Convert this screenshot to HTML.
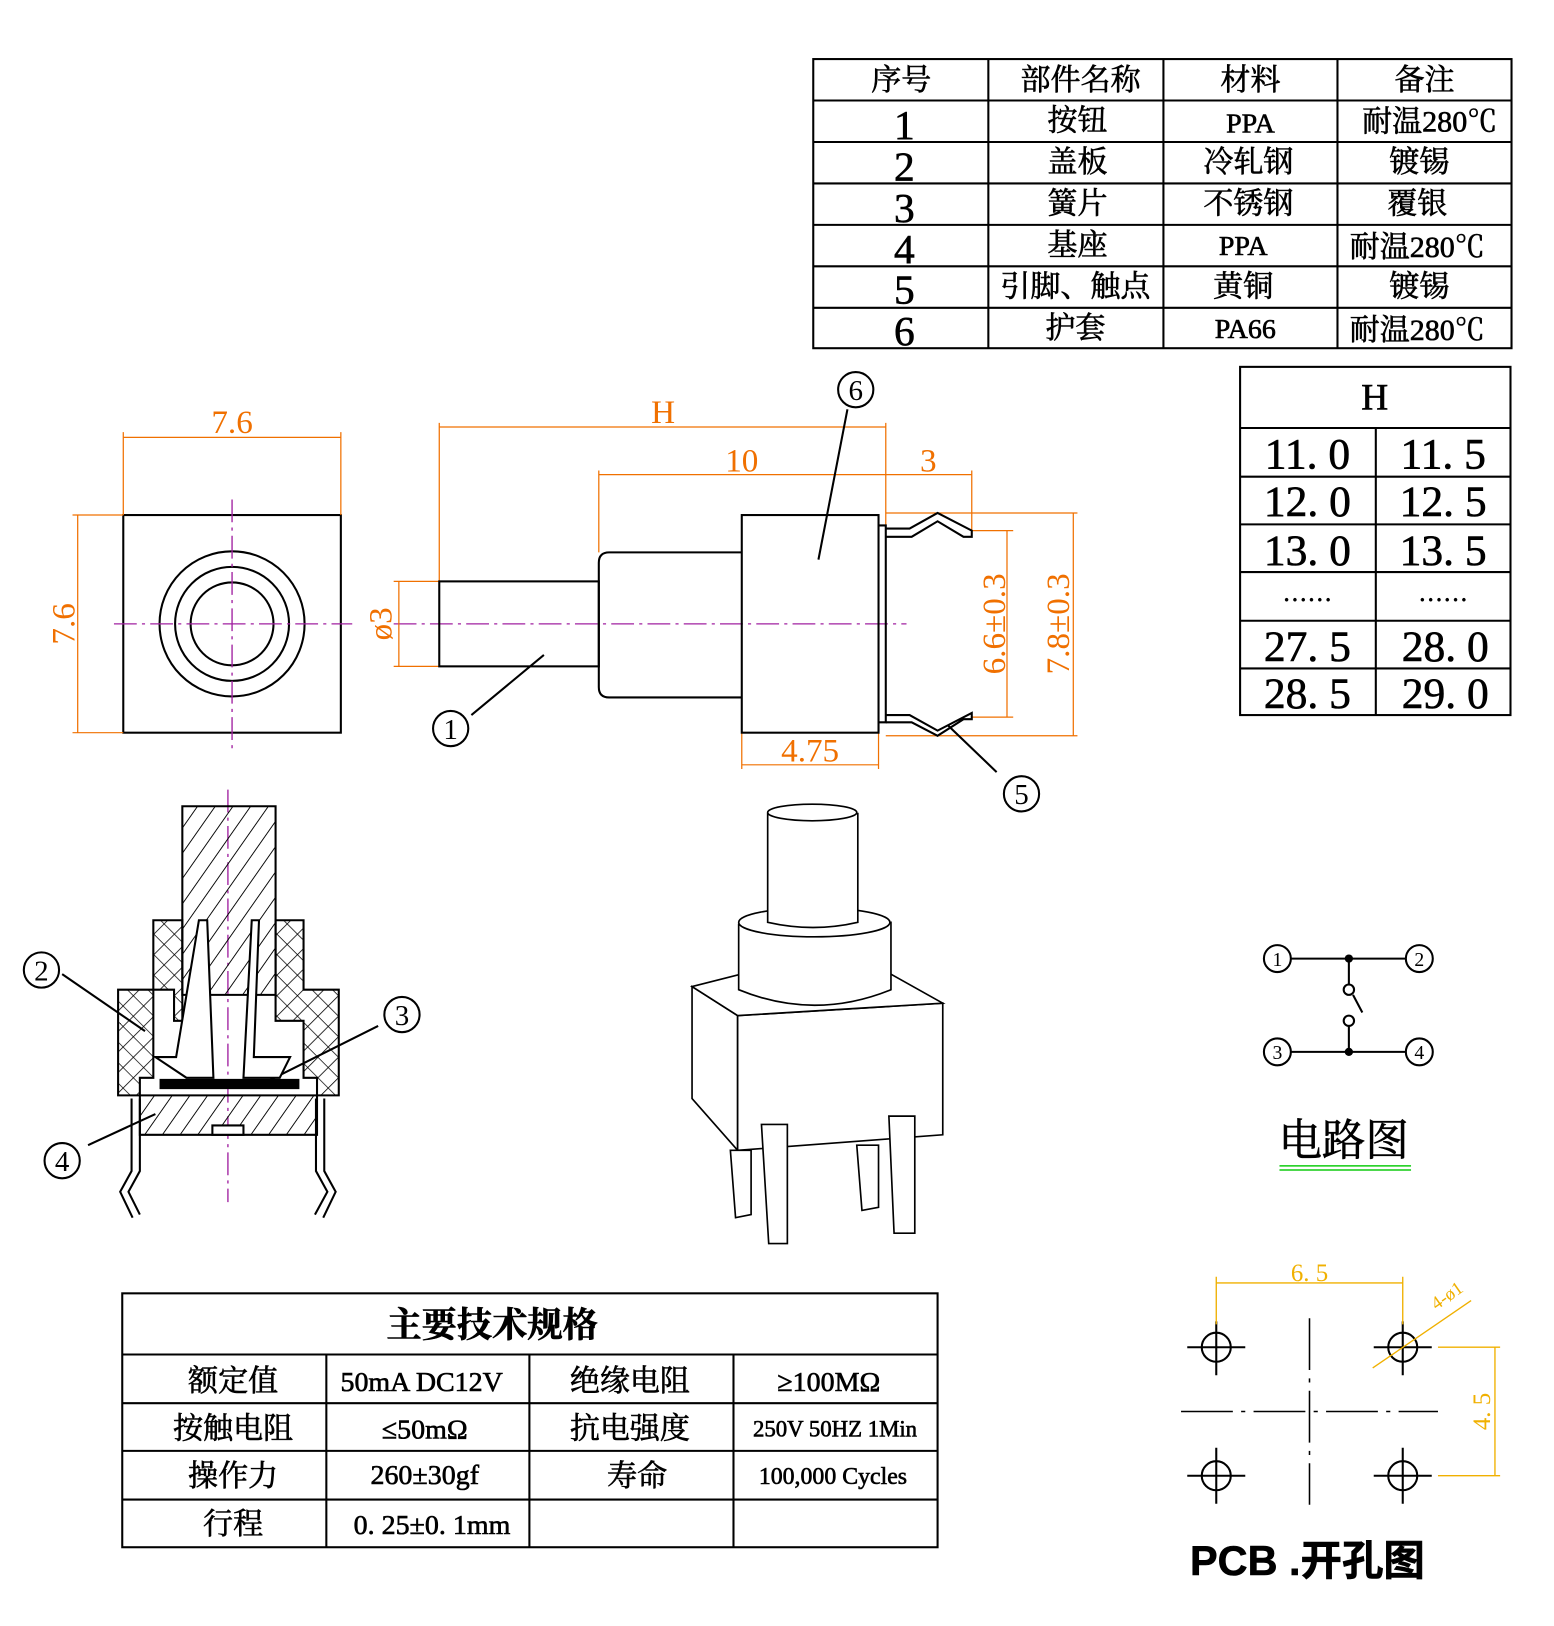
<!DOCTYPE html>
<html><head><meta charset="utf-8"><style>
html,body{margin:0;padding:0;background:#fff}
svg{display:block}
text{font-family:"Liberation Serif","Noto Serif CJK SC","Noto Sans CJK SC",serif}
.cn{font-family:"Liberation Serif","Noto Serif CJK SC",serif;stroke:#000;stroke-width:0.6}
.o{fill:#f07000;font-family:"Liberation Sans Narrow","Liberation Sans",sans-serif}
</style></head><body>
<svg width="1554" height="1626" viewBox="0 0 1500 1569" preserveAspectRatio="none" xmlns="http://www.w3.org/2000/svg">
<g fill="none" stroke="#000" stroke-width="2">
<rect x="785" y="57" width="674" height="279"/>
<path d="M954 57V336M1123 57V336M1291 57V336M785 97H1459M785 137H1459M785 177H1459M785 217H1459M785 257H1459M785 297H1459"/>
<rect x="1197" y="354" width="261" height="336"/>
<path d="M1328 413V690M1197 413H1458M1197 460H1458M1197 506H1458M1197 552H1458M1197 599H1458M1197 645H1458"/>
<rect x="118" y="1248" width="787" height="245"/>
<path d="M118 1307H905M118 1354H905M118 1400H905M118 1447H905M315 1307V1493M511 1307V1493M708 1307V1493"/>
</g>
<g class="cn" font-size="29" text-anchor="middle" fill="#000">
<text x="870" y="87">序号</text><text x="1043" y="87">部件名称</text><text x="1207" y="87">材料</text><text x="1375" y="87">备注</text>
<g font-size="40"><text x="873" y="134">1</text><text x="873" y="174">2</text><text x="873" y="214">3</text><text x="873" y="254">4</text><text x="873" y="293">5</text><text x="873" y="333">6</text></g>
<text x="1040" y="126">按钮</text><text x="1040" y="166">盖板</text><text x="1040" y="206">簧片</text><text x="1040" y="246">基座</text><text x="1038" y="286">引脚、触点</text><text x="1038" y="326">护套</text>
<text x="1207" y="128" font-size="27">PPA</text><text x="1205" y="166">冷轧钢</text><text x="1205" y="206">不锈钢</text><text x="1200" y="246" font-size="27">PPA</text><text x="1200" y="286">黄铜</text><text x="1202" y="326" font-size="27">PA66</text>
<text x="1380" y="127">耐温280℃</text><text x="1370" y="166">镀锡</text><text x="1368" y="206">覆银</text><text x="1368" y="248">耐温280℃</text><text x="1370" y="286">镀锡</text><text x="1368" y="328">耐温280℃</text>
<text x="1327" y="395" font-size="36">H</text>
<g font-size="42"><text x="1262" y="452">11. 0</text><text x="1393" y="452">11. 5</text><text x="1262" y="498">12. 0</text><text x="1393" y="498">12. 5</text><text x="1262" y="545">13. 0</text><text x="1393" y="545">13. 5</text><text x="1262" y="580" font-size="24">……</text><text x="1393" y="580" font-size="24">……</text><text x="1262" y="638">27. 5</text><text x="1395" y="638">28. 0</text><text x="1262" y="683">28. 5</text><text x="1395" y="683">29. 0</text></g>
<text x="475" y="1290" font-size="34" font-weight="bold">主要技术规格</text>
<text x="225" y="1342">额定值</text><text x="407" y="1342" font-size="27">50mA DC12V</text><text x="608" y="1342">绝缘电阻</text><text x="800" y="1342" font-size="27">≥100MΩ</text>
<text x="225" y="1388">按触电阻</text><text x="410" y="1388" font-size="27">≤50mΩ</text><text x="608" y="1388">抗电强度</text><text x="806" y="1386" font-size="22">250V 50HZ 1Min</text>
<text x="225" y="1434">操作力</text><text x="410" y="1432" font-size="27">260±30gf</text><text x="615" y="1434">寿命</text><text x="804" y="1432" font-size="23">100,000 Cycles</text>
<text x="225" y="1480">行程</text><text x="417" y="1480" font-size="27">0. 25±0. 1mm</text>
<text x="1297" y="1115" font-size="42">电路图</text>
<text x="1262" y="1520" font-size="40" font-weight="bold" style="font-family:'Liberation Sans','Noto Sans CJK SC',sans-serif">PCB .开孔图</text>
</g>
<path d="M1235 1125H1362M1235 1129H1362" stroke="#1c1" stroke-width="1.5"/>
<g fill="none" stroke="#000" stroke-width="2">
<rect x="119" y="497" width="210" height="210"/>
<circle cx="224" cy="602" r="70"/><circle cx="224" cy="602" r="55"/><circle cx="224" cy="602" r="40"/>
</g>
<g stroke="#a020a0" stroke-width="1.3" stroke-dasharray="22,5,3,5" fill="none">
<path d="M110 602H340M224 482V722M380 602H875M220 762V1160"/>
</g>
<g stroke="#f07000" stroke-width="1.2" fill="none">
<path d="M119 417V497M329 417V497M119 422H329M70 497H119M70 707H119M75 497V707"/>
<path d="M424 408V561M855 408V507M424 412H855M578 454V533M578 458H938M938 454V515M380 561H424M380 643H424M385 561V643"/>
<path d="M716 707V742M848 707V742M716 738H848M938 512H978M938 692H978M972 512V692M855 495H1040M855 710H1040M1036 495V710"/>
</g>
<g class="o" font-size="32" text-anchor="middle">
<text x="224" y="418">7.6</text><text x="640" y="408">H</text><text x="716" y="455">10</text><text x="896" y="455">3</text><text x="782" y="735">4.75</text>
<text transform="translate(72,602) rotate(-90)">7.6</text>
<text transform="translate(378,602) rotate(-90)">ø3</text>
<text transform="translate(970,602) rotate(-90)">6.6±0.3</text>
<text transform="translate(1032,602) rotate(-90)">7.8±0.3</text>
</g>
<g fill="none" stroke="#000" stroke-width="2">
<rect x="424" y="561" width="154" height="82"/>
<path d="M716 533H588Q578 533 578 543V663Q578 673 588 673H716"/>
<rect x="716" y="497" width="132" height="210"/>
<path d="M848 507H855V697H848"/>
<path d="M855 510H878L905 495L938 512V518H930L905 503L880 518H855M855 690H878L905 705L938 688V694H930L905 710L880 697H855"/>
<path d="M818 395L790 540M455 690L525 632M962 745L915 700M60 940L140 995M365 990L255 1045M85 1105L150 1075"/>
</g>
<g fill="#fff" stroke="#000" stroke-width="2">
<circle cx="826" cy="376" r="17"/><circle cx="435" cy="703" r="17"/><circle cx="986" cy="766" r="17"/>
<circle cx="40" cy="936" r="17"/><circle cx="388" cy="979" r="17"/><circle cx="60" cy="1120" r="17"/>
</g>
<g font-size="28" text-anchor="middle" fill="#000">
<text x="826" y="386">6</text><text x="435" y="713">1</text><text x="986" y="776">5</text><text x="40" y="946">2</text><text x="388" y="989">3</text><text x="60" y="1130">4</text>
</g>
<defs>
<pattern id="h" width="14" height="14" patternUnits="userSpaceOnUse" patternTransform="rotate(35)"><path d="M0 0V14" stroke="#000" stroke-width="1.8"/></pattern>
<pattern id="x" width="14" height="14" patternUnits="userSpaceOnUse" patternTransform="rotate(45)"><path d="M0 0V14M0 0H14" stroke="#000" stroke-width="1.5"/></pattern>
</defs>
<g stroke="#000" stroke-width="2">
<path d="M176 778H266V960H176Z" fill="url(#h)"/>
<path d="M148 888H176V985H168V955H114V1057H135V1040H148Z" fill="url(#x)"/>
<path d="M266 888H293V955H327V1057H306V1040H293V985H266Z" fill="url(#x)"/>
<path d="M192 888L200 888L206 1040H180L150 1020H170Z" fill="#fff"/>
<path d="M243 888L250 888L245 1020H280L270 1040H235Z" fill="#fff"/>
<path d="M135 1057H306V1095H135Z" fill="url(#h)"/>
<path d="M155 1042H288V1050H155Z" fill="#000"/>
<path d="M205 1086H235V1095H205Z" fill="#fff"/>
<path d="M127 1060V1130L116 1150L128 1175M313 1060V1130L324 1150L312 1175M135 1060V1130L124 1150L135 1172M305 1060V1130L316 1150L304 1172" fill="none"/>
</g>
<g fill="#fff" stroke="#000" stroke-width="1.6">
<path d="M668 952L712 980V1110L668 1060Z"/>
<path d="M712 980L910 968V1095L712 1110Z"/>
<path d="M668 952L715 940H860L910 968L712 980Z"/>
<path d="M713 892V955Q786 985 860 955V890Z"/>
<ellipse cx="786" cy="890" rx="73" ry="14"/>
<path d="M741 785V890Q785 900 828 890V785Z"/>
<ellipse cx="784" cy="784" rx="43" ry="8"/>
<path d="M705 1110H725V1172L710 1175Z"/>
<path d="M735 1085H760V1200H742Z"/>
<path d="M827 1105H848V1165L832 1168Z"/>
<path d="M858 1077H883V1190H863Z"/>
</g>
<g stroke="#000" stroke-width="2" fill="none">
<path d="M1246 925H1357M1246 1015H1357M1302 925V950M1302 990V1015M1306 960L1315 977"/>
<circle cx="1233" cy="925" r="13"/><circle cx="1370" cy="925" r="13"/><circle cx="1233" cy="1015" r="13"/><circle cx="1370" cy="1015" r="13"/>
<circle cx="1302" cy="955" r="5"/><circle cx="1302" cy="985" r="5"/>
</g>
<circle cx="1302" cy="925" r="4"/><circle cx="1302" cy="1015" r="4"/>
<g font-size="19" text-anchor="middle"><text x="1233" y="932">1</text><text x="1370" y="932">2</text><text x="1233" y="1022">3</text><text x="1370" y="1022">4</text></g>
<g stroke="#000" stroke-width="2" fill="none">
<circle cx="1174" cy="1300" r="14"/><circle cx="1354" cy="1300" r="14"/><circle cx="1174" cy="1424" r="14"/><circle cx="1354" cy="1424" r="14"/>
<path d="M1146 1300H1202M1174 1275V1327M1326 1300H1382M1354 1275V1327M1146 1424H1202M1174 1397V1451M1326 1424H1382M1354 1397V1451"/>
<path d="M1140 1362H1388M1264 1272V1452" stroke-width="1.5" stroke-dasharray="50,8,4,8"/>
</g>
<g stroke="#f0b000" stroke-width="1.3" fill="none">
<path d="M1174 1232V1278M1354 1232V1278M1174 1238H1354M1388 1300H1448M1388 1424H1448M1443 1300V1424M1325 1320L1420 1255"/>
</g>
<g fill="#f0b000" font-size="24" text-anchor="middle" style="font-family:'Liberation Sans',sans-serif">
<text x="1264" y="1236">6. 5</text>
<text transform="translate(1438,1362) rotate(-90)">4. 5</text>
<text transform="translate(1400,1255) rotate(-35)" font-size="18">4-ø1</text>
</g>
</svg>
</body></html>
